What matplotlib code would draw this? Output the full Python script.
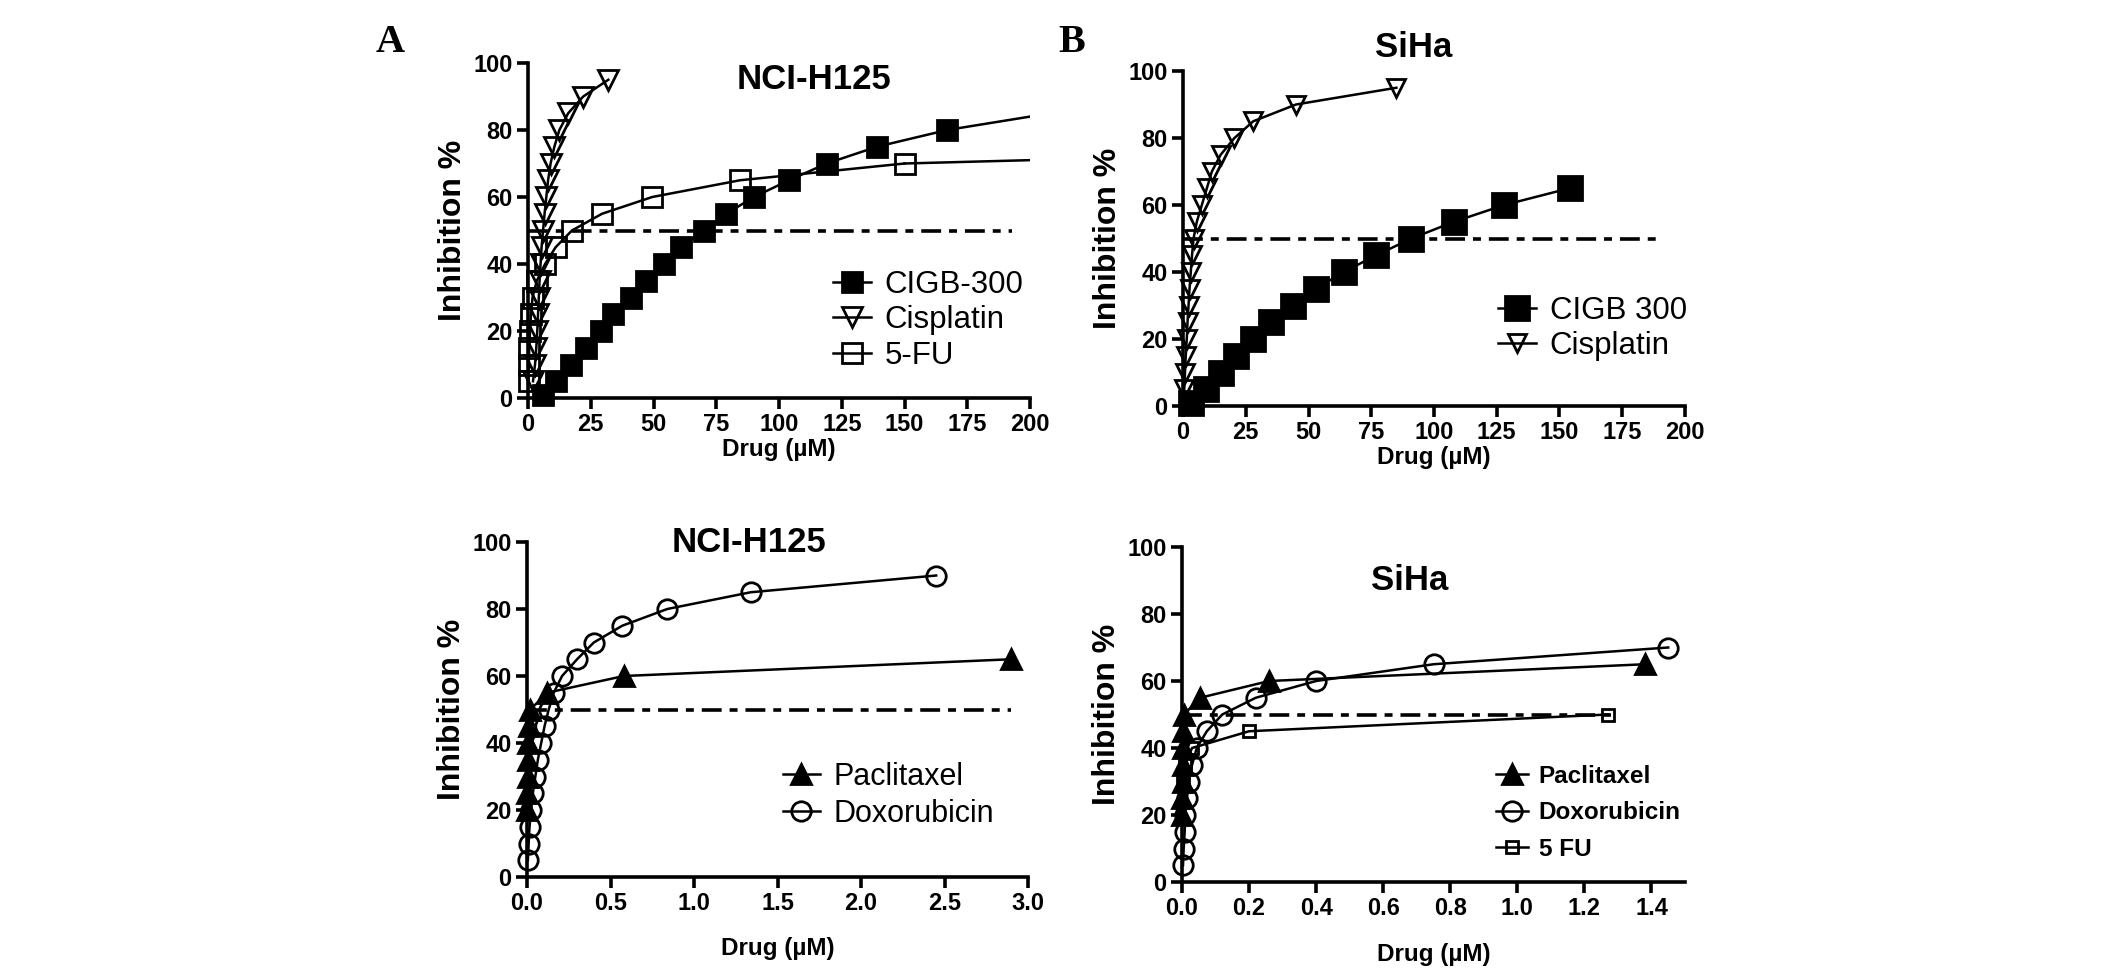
import matplotlib
matplotlib.use('Agg')
import matplotlib.pyplot as plt

plt.rcParams['font.family'] = ['Liberation Sans', 'DejaVu Sans']

# ---------------- data ----------------
pct_steps = [5, 10, 15, 20, 25, 30, 35, 40, 45, 50, 55, 60, 65, 70, 75, 80, 85, 90, 95]

# A top : NCI-H125, µM
h125_cigb_x = [6, 11, 17, 23, 29, 34, 41, 47, 54, 61, 70, 79, 90, 104, 119, 139, 167]
h125_cigb_y = [1, 5, 10, 15, 20, 25, 30, 35, 40, 45, 50, 55, 60, 65, 70, 75, 80]
h125_cigb_end = [200, 84]
h125_cis_x = [2, 2.8, 3.3, 3.7, 4, 4.3, 4.6, 5, 5.4, 6, 6.6, 7.3, 8, 9, 10.5, 12.5, 16, 22, 32]
h125_cis_y = pct_steps
h125_5fu_x = [0.2, 0.3, 0.5, 0.8, 1.2, 1.8, 3.5, 6.8, 11, 17.5, 29.5, 49.5, 84.5, 150]
h125_5fu_y = [5, 10, 15, 20, 25, 30, 35, 40, 45, 50, 55, 60, 65, 70]
h125_5fu_end = [200, 71]

# B top : SiHa, µM
siha_cigb_x = [3, 9, 15, 21, 28, 35, 44, 53, 64, 77, 91, 108, 128, 154]
siha_cigb_y = [1, 5, 10, 15, 20, 25, 30, 35, 40, 45, 50, 55, 60, 65]
siha_cis_x = [0.5, 0.8, 1.1, 1.5, 1.8, 2.2, 2.6, 3.1, 3.6, 4.2, 5.5, 7.5, 9.5, 11.5, 15, 20.5, 28, 45, 85]
siha_cis_y = pct_steps

# A bottom : NCI-H125, µM
h125_pac_x = [0.001, 0.002, 0.003, 0.004, 0.006, 0.009, 0.02, 0.12, 0.58, 2.9]
h125_pac_y = [20, 25, 30, 35, 40, 45, 50, 55, 60, 65]
h125_dox_x = [0.005, 0.01, 0.015, 0.025, 0.035, 0.05, 0.065, 0.085, 0.105, 0.13,
              0.16, 0.21, 0.30, 0.40, 0.57, 0.84, 1.34, 2.45]
h125_dox_y = [5, 10, 15, 20, 25, 30, 35, 40, 45, 50, 55, 60, 65, 70, 75, 80, 85, 90]

# B bottom : SiHa, µM
siha_pac_x = [0.0005, 0.001, 0.0015, 0.002, 0.003, 0.004, 0.006, 0.054, 0.26, 1.38]
siha_pac_y = [20, 25, 30, 35, 40, 45, 50, 55, 60, 65]
siha_dox_x = [0.003, 0.005, 0.008, 0.01, 0.015, 0.02, 0.03, 0.044, 0.074, 0.12, 0.22, 0.40, 0.75, 1.45]
siha_dox_y = [5, 10, 15, 20, 25, 30, 35, 40, 45, 50, 55, 60, 65, 70]
siha_5fu_x = [0.002, 0.008, 0.03, 0.2, 1.27]
siha_5fu_y = [30, 35, 40, 45, 50]

ic50_level = 50
ic50_span = {'tl': [0, 193], 'tr': [0, 190], 'bl': [0, 2.9], 'br': [0, 1.3]}

y_ticks = [0, 20, 40, 60, 80, 100]
x_ticks_top = [0, 25, 50, 75, 100, 125, 150, 175, 200]
x_ticks_bl = [0.0, 0.5, 1.0, 1.5, 2.0, 2.5, 3.0]
x_ticks_br = [0.0, 0.2, 0.4, 0.6, 0.8, 1.0, 1.2, 1.4]

# ---------------- figure ----------------
W, H = 2126, 975
fig = plt.figure(figsize=(W / 100, H / 100), dpi=100)


def px_axes(left, top, width, height):
    return fig.add_axes([left / W, 1 - (top + height) / H, width / W, height / H])


def style(ax, xticks, xlim, xfmt, xlabelpad):
    for s in ['top', 'right']:
        ax.spines[s].set_visible(False)
    for s in ['left', 'bottom']:
        ax.spines[s].set_linewidth(2.6)
    ax.set_xlim(*xlim)
    ax.set_ylim(0, 100)
    ax.set_yticks(y_ticks)
    ax.set_xticks(xticks)
    ax.set_xticklabels([xfmt.format(v) for v in xticks])
    ax.tick_params(width=2.6, length=8, labelsize=17, pad=3)
    for lab in ax.get_xticklabels() + ax.get_yticklabels():
        lab.set_fontweight('bold')
    ax.set_xlabel('Drug (µM)', fontsize=17.5, fontweight='bold', labelpad=xlabelpad)
    ax.set_ylabel('Inhibition %', fontsize=23, fontweight='bold', labelpad=4)


dash = (0, (5.5, 2.2, 2.2, 2.2))
LW = 1.8
EW = 2.0


def series(ax, x, y, marker, ms, filled, label):
    return ax.plot(x, y, color='black', lw=LW, marker=marker, ms=ms,
                   mfc='black' if filled else 'none', mec='black', mew=EW,
                   clip_on=False, label=label)[0]


def add_legend(ax, handles, left, top, fontsize, spacing, hlen=1.2, pad=0.45, bold=False):
    leg = ax.legend(handles=handles, loc='upper left',
                    bbox_to_anchor=(left / W, 1 - top / H), bbox_transform=fig.transFigure,
                    frameon=False, fontsize=fontsize, borderpad=0, borderaxespad=0,
                    handlelength=hlen, handletextpad=pad, labelspacing=spacing, numpoints=1)
    if bold:
        for t in leg.get_texts():
            t.set_fontweight('bold')
    return leg


# --- A top
ax = px_axes(528, 63, 502, 335)
style(ax, x_ticks_top, (0, 200), '{:g}', 1)
ax.plot(ic50_span['tl'], [ic50_level] * 2, color='black', lw=2.6, ls=dash)
h1 = series(ax, h125_cigb_x, h125_cigb_y, 's', 15, True, 'CIGB-300')
ax.plot([h125_cigb_x[-1], h125_cigb_end[0]], [h125_cigb_y[-1], h125_cigb_end[1]], color='black', lw=LW)
h2 = series(ax, h125_cis_x, h125_cis_y, 'v', 15, False, 'Cisplatin')
h3 = series(ax, h125_5fu_x, h125_5fu_y, 's', 15, False, '5-FU')
ax.plot([h125_5fu_x[-1], h125_5fu_end[0]], [h125_5fu_y[-1], h125_5fu_end[1]], color='black', lw=LW)
ax.text(114, 95, 'NCI-H125', fontsize=25, fontweight='bold', ha='center', va='center')
add_legend(ax, [h1, h2, h3], 833, 270, 22.5, 0.17)

# --- B top
ax = px_axes(1183, 71, 502, 335)
style(ax, x_ticks_top, (0, 200), '{:g}', 1)
ax.plot(ic50_span['tr'], [ic50_level] * 2, color='black', lw=2.6, ls=dash)
h1 = series(ax, siha_cigb_x, siha_cigb_y, 's', 17, True, 'CIGB 300')
h2 = series(ax, siha_cis_x, siha_cis_y, 'v', 12.5, False, 'Cisplatin')
ax.text(92, 107, 'SiHa', fontsize=25, fontweight='bold', ha='center', va='center')
add_legend(ax, [h1, h2], 1498, 296, 22.5, 0.17)

# --- A bottom
ax = px_axes(527, 542, 501, 335)
style(ax, x_ticks_bl, (0, 3), '{:.1f}', 16)
ax.plot(ic50_span['bl'], [ic50_level] * 2, color='black', lw=2.6, ls=dash)
h1 = series(ax, h125_pac_x, h125_pac_y, '^', 14, True, 'Paclitaxel')
h2 = series(ax, h125_dox_x, h125_dox_y, 'o', 14, False, 'Doxorubicin')
ax.text(1.33, 100, 'NCI-H125', fontsize=25, fontweight='bold', ha='center', va='center')
add_legend(ax, [h1, h2], 783, 762, 22, 0.23)

# --- B bottom
ax = px_axes(1182, 547, 503, 335)
style(ax, x_ticks_br, (0, 1.5), '{:.1f}', 16)
ax.plot(ic50_span['br'], [ic50_level] * 2, color='black', lw=2.6, ls=dash)
h1 = series(ax, siha_pac_x, siha_pac_y, '^', 14, True, 'Paclitaxel')
h2 = series(ax, siha_dox_x, siha_dox_y, 'o', 14, False, 'Doxorubicin')
h3 = series(ax, siha_5fu_x, siha_5fu_y, 's', 8.5, False, '5 FU')
ax.text(0.68, 90, 'SiHa', fontsize=25, fontweight='bold', ha='center', va='center')
add_legend(ax, [h1, h2, h3], 1496, 765, 17.5, 0.55, hlen=1.3, bold=True)

# panel letters
fig.text(390 / W, 1 - 43 / H, 'A', fontsize=29, fontweight='bold', family='Liberation Serif',
         ha='center', va='center')
fig.text(1072 / W, 1 - 43 / H, 'B', fontsize=29, fontweight='bold', family='Liberation Serif',
         ha='center', va='center')

fig.savefig('out.png', dpi=100, facecolor='white')
